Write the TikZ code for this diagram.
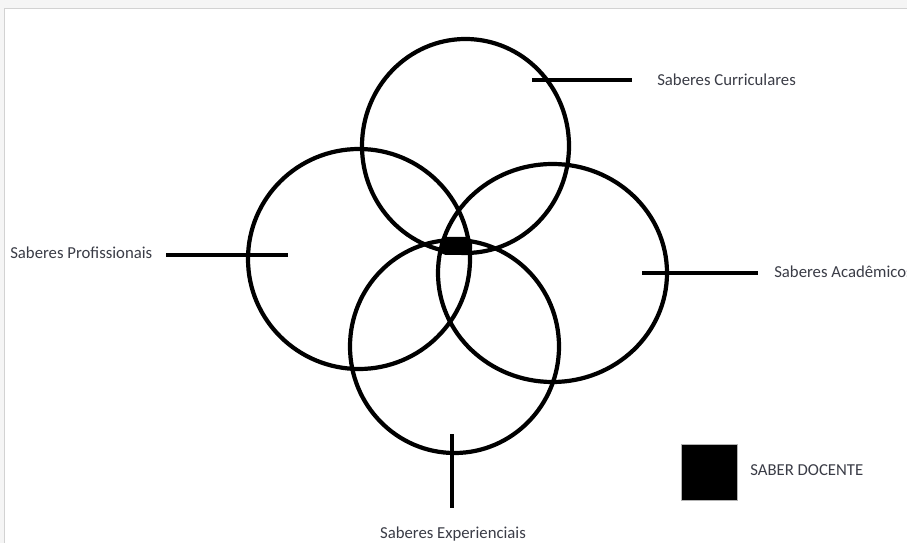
\documentclass[tikz,border=0pt]{standalone}
\usepackage{fontspec}
\setmainfont{Carlito}
\definecolor{labelgray}{RGB}{58,60,70}
\tikzset{
  saber/.style={line width=3pt},
  rotulo/.style={text=labelgray,font=\fontsize{11.9}{13}\selectfont,inner sep=0pt}
}

\begin{document}
\begin{tikzpicture}[x=0.025cm,y=-0.025cm]
  % fundo
  \useasboundingbox (0,0) rectangle (907,543);
  \fill[gray!8] (0,0) rectangle (907,543);
  \filldraw[fill=white,draw=gray!35,line width=0.4pt] (4,8) rectangle (910,546);
  % centros dos circulos
  \coordinate (curr) at (465.5,146);
  \coordinate (prof) at (359,259);
  \coordinate (acad) at (552.5,273);
  \coordinate (expe) at (454.5,346.5);
  \draw[saber] (curr) ellipse (103.5 and 107);
  \draw[saber] (prof) ellipse (111 and 110);
  \draw[saber] (acad) ellipse (114.5 and 109);
  \draw[saber] (expe) ellipse (104.5 and 106.5);
  % saber docente (centro)
  \fill[rounded corners=4] (440,237) rectangle (472,255);
  % linhas e rotulos
  \coordinate (c1) at (532,80);
  \coordinate (c2) at (632,80);
  \draw[saber] (c1) -- (c2);
  \node[rotulo,anchor=west] (tcurr) at (657,80) {Saberes Curriculares};
  \coordinate (p1) at (166,255);
  \coordinate (p2) at (288,255);
  \draw[saber] (p1) -- (p2);
  \node[rotulo,anchor=west] (tprof) at (10,253) {Saberes Profissionais};
  \coordinate (a1) at (642,273);
  \coordinate (a2) at (758,273);
  \draw[saber] (a1) -- (a2);
  \node[rotulo,anchor=west] (tacad) at (774,272) {Saberes Acadêmicos};
  \coordinate (e1) at (452,434);
  \coordinate (e2) at (452,508);
  \draw[saber] (e1) -- (e2);
  \node[rotulo] (texpe) at (453,534) {Saberes Experienciais};
  % legenda
  \filldraw[fill=black,draw=gray!60,line width=0.4pt] (681,444) rectangle (737,500);
  \node[rotulo,anchor=west] (tdoc) at (750,470) {SABER DOCENTE};
\end{tikzpicture}
\end{document}
